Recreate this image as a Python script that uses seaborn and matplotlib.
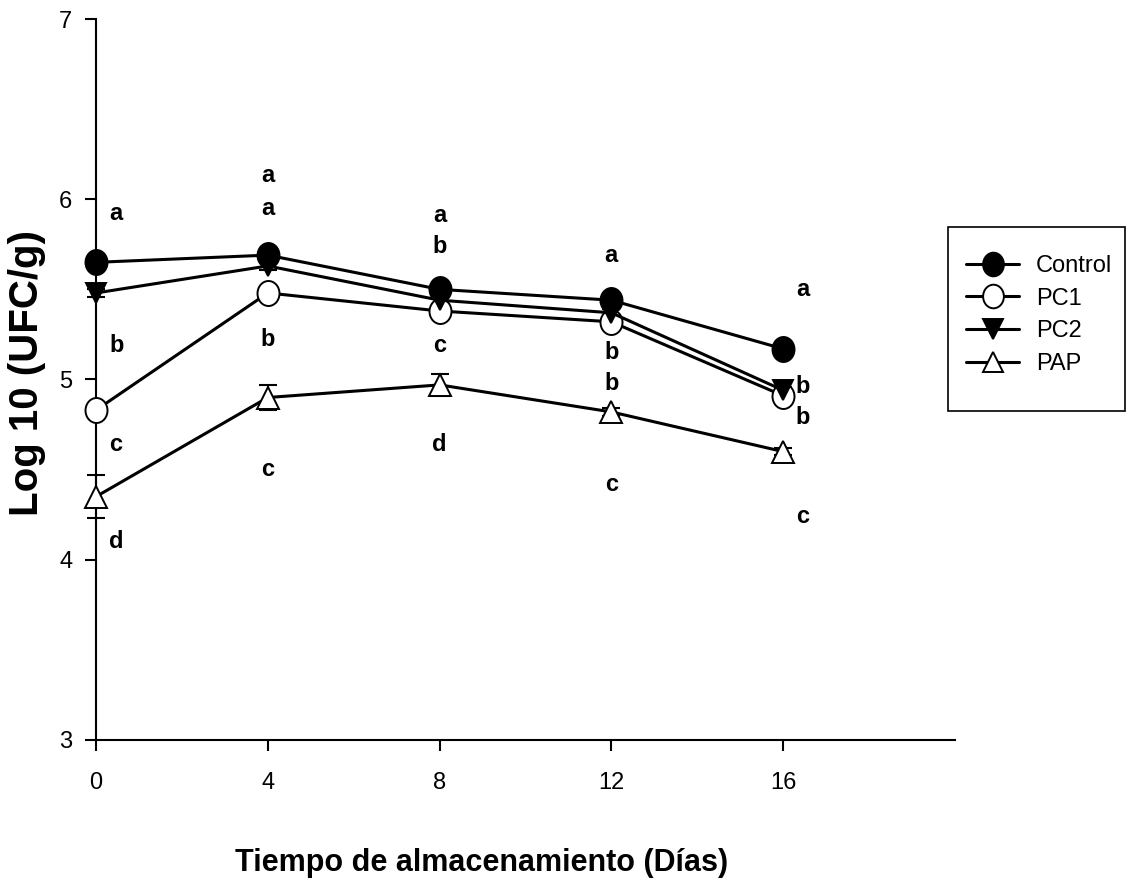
import numpy as np
import pandas as pd
import matplotlib
matplotlib.use("Agg")
import matplotlib.pyplot as plt
import seaborn as sns
from matplotlib.lines import Line2D
from matplotlib.path import Path
from matplotlib.patches import Rectangle

sns.set_theme(style="ticks")
plt.rcParams['font.family'] = ['Liberation Sans', 'DejaVu Sans']

days = [0, 4, 8, 12, 16]
series_names = ["Control", "PC1", "PC2", "PAP"]
control = [5.65, 5.69, 5.50, 5.44, 5.17]
pc1 = [4.83, 5.48, 5.38, 5.32, 4.91]
pc2 = [5.48, 5.63, 5.44, 5.37, 4.94]
pap = [4.35, 4.90, 4.97, 4.82, 4.60]
pap_err = [0.12, 0.07, 0.06, 0.02, 0.02]
other_err = [0.02, 0.02, 0.02, 0.02, 0.02]

letters_x = [0.47, 4.0, 8.0, 12.0, 16.45]
letters = [["a", "b", "c", "d"], ["a", "a", "b", "c"], ["a", "b", "c", "d"],
           ["a", "b", "b", "c"], ["a", "b", "b", "c"]]
letters_y = [[5.92, 5.19, 4.64, 4.10], [6.13, 5.95, 5.22, 4.50], [5.91, 5.74, 5.19, 4.64],
             [5.69, 5.15, 4.98, 4.42], [5.50, 4.96, 4.79, 4.24]]

# slightly narrow ellipse marker (as in the reference)
_c = Path.unit_circle()
ellipse = Path(_c.vertices * np.array([0.88, 1.0]), _c.codes)

values = {"Control": control, "PC1": pc1, "PC2": pc2, "PAP": pap}
errors = {"Control": other_err, "PC1": other_err, "PC2": other_err, "PAP": pap_err}
markers = {"Control": ellipse, "PC1": ellipse, "PC2": "v", "PAP": "^"}
faces = {"Control": "black", "PC1": "white", "PC2": "black", "PAP": "white"}
msize = {"Control": 18, "PC1": 18, "PC2": 15, "PAP": 16}

df = pd.DataFrame([(s, d, v) for s in series_names for d, v in zip(days, values[s])],
                  columns=["serie", "dia", "valor"])

fig = plt.figure(figsize=(11.32, 8.88), dpi=100)
ax = fig.add_axes([0.0848, 0.1667, 0.7588, 0.8119])

for s in series_names:
    sub = df[df.serie == s]
    eb = ax.errorbar(sub.dia, sub.valor, yerr=errors[s], fmt="none", ecolor="black",
                     elinewidth=1.5, capsize=6.5, capthick=1.5, zorder=2)
    for art in eb.get_children():
        art.set_clip_on(False)

for s in ["PAP", "PC1", "PC2", "Control"]:
    sub = df[df.serie == s]
    sns.lineplot(data=sub, x="dia", y="valor", ax=ax, color="black", linewidth=2.2,
                 marker=markers[s], markersize=msize[s], markerfacecolor=faces[s],
                 markeredgecolor="black", markeredgewidth=1.4, zorder=3, clip_on=False)

for lx, labs, lys in zip(letters_x, letters, letters_y):
    for lab, ly in zip(labs, lys):
        ax.text(lx, ly, lab, ha="center", va="center", fontsize=17, fontweight="bold",
                color="black")

ax.set_xlim(0, 20)
ax.set_ylim(3, 7)
ax.set_xticks(days)
ax.set_xticklabels([str(d) for d in days])
ax.set_yticks([3, 4, 5, 6, 7])
ax.tick_params(axis="both", direction="out", length=8, width=1.5, labelsize=17,
               colors="black")
ax.tick_params(axis="x", pad=15)
ax.tick_params(axis="y", pad=9)
for sp in ["top", "right"]:
    ax.spines[sp].set_visible(False)
for sp in ["left", "bottom"]:
    ax.spines[sp].set_linewidth(1.5)
    ax.spines[sp].set_color("black")

ax.set_xlabel("Tiempo de almacenamiento (Días)", fontsize=22, fontweight="bold",
              color="black")
ax.xaxis.set_label_coords(0.449, -0.150)
ax.set_ylabel("Log 10 (UFC/g)", fontsize=29, fontweight="bold", color="black")
ax.yaxis.set_label_coords(-0.058, 0.509)

handles = [Line2D([0], [0], color="black", linewidth=2.2, marker=markers[s],
                  markersize=msize[s] - 1, markerfacecolor=faces[s], markeredgecolor="black",
                  markeredgewidth=1.4) for s in series_names]
leg = fig.legend(handles, series_names, loc="upper left",
                 bbox_to_anchor=(966 / 1132, 1 - 255 / 888), frameon=False,
                 fontsize=17, handlelength=2.25, borderpad=0,
                 labelspacing=0.45, handletextpad=0.72, borderaxespad=0)
for t in leg.get_texts():
    t.set_color("black")

# legend frame (taller than its entries, as in the reference)
fig.patches.append(Rectangle((948 / 1132, 1 - 411 / 888), 177 / 1132, 184 / 888,
                             transform=fig.transFigure, fill=False, edgecolor="black",
                             linewidth=1.2, zorder=5))

fig.savefig("out.png", dpi=100)
